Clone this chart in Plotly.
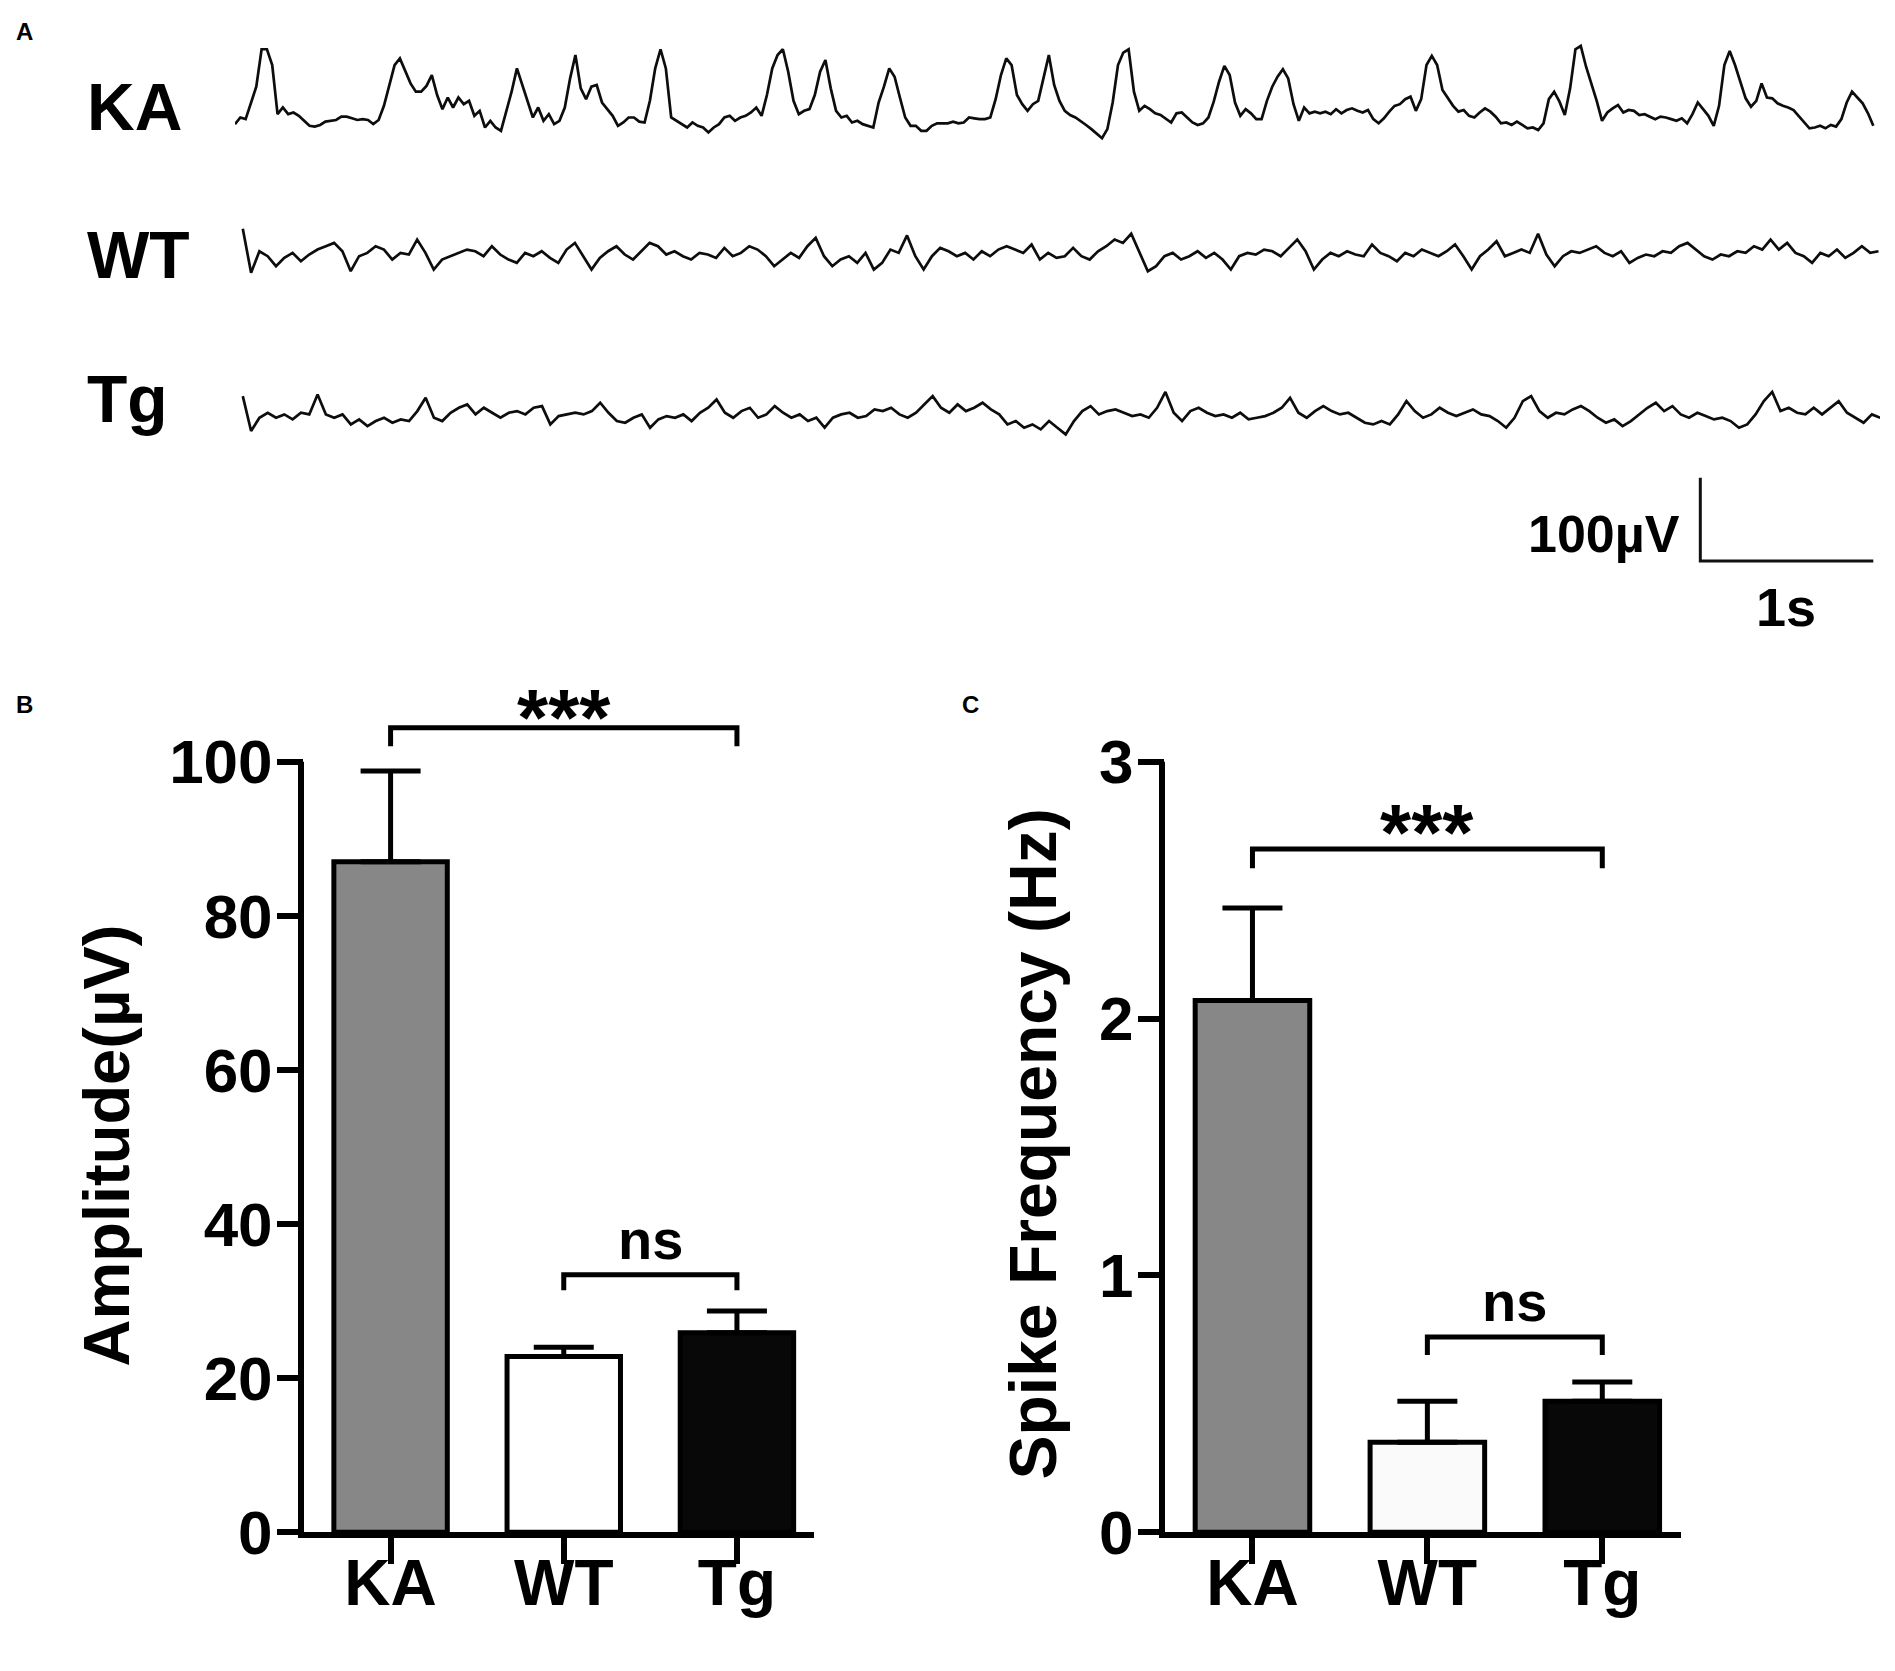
import numpy as np
import plotly.graph_objects as go

W, H = 1895, 1671
FONT = "Liberation Sans, Arial, sans-serif"

# ---------------- data ----------------
groups = ["KA", "WT", "Tg"]

amp_mean = [87.0, 22.8, 25.9]      # uV
amp_sem = [11.8, 1.2, 2.8]
freq_mean = [2.07, 0.35, 0.51]     # Hz
freq_sem = [0.36, 0.16, 0.075]

fills_b = ["#878787", "#ffffff", "#080808"]
fills_c = ["#878787", "#fafafa", "#080808"]

# significance brackets: left group, right group, level, leg end, label
amp_sig = [("KA", "Tg", 104.4, 102.0, "***"), ("WT", "Tg", 33.4, 31.4, "ns")]
freq_sig = [("KA", "Tg", 2.66, 2.585, "***"), ("WT", "Tg", 0.76, 0.69, "ns")]

# EEG traces, uV relative to each baseline
ka_uv = [
    -8, 0, -2, 18, 37, 82, 82, 63, 4, 12, 4, 6, 2, -4, -10, -11, -9, -5, -4, -3,
    1, 1, -1, -3, -2, -3, -8, -3, 14, 37, 63, 71, 57, 41, 31, 31, 38, 51, 27, 10,
    24, 12, 24, 16, 20, 2, 8, -12, -4, -12, -16, 6, 31, 59, 39, 20, 0, 12, -4, 4,
    -8, -4, 12, 47, 75, 35, 22, 37, 39, 18, 10, 2, -10, -6, 0, 0, -5, -6, 20, 59,
    82, 59, 0, -4, -8, -12, -6, -10, -12, -18, -12, -8, 0, 2, -4, 0, 2, 6, 12, 2,
    27, 59, 75, 82, 55, 20, 4, 8, 10, 27, 55, 69, 35, 8, 0, 2, -6, -4, -8, -10,
    -12, 18, 37, 59, 49, 24, 0, -10, -10, -16, -16, -10, -7, -7, -7, -5, -7, -6, 0, -1,
    -2, -2, 0, 22, 51, 71, 63, 27, 16, 8, 16, 20, 47, 75, 39,
    20, 8, 3, 0, -4, -9, -14, -20, -25, -14, 18, 63, 78, 82, 31, 8, 14, 10, 5, 3,
    -2, -6, 5, 6, 0, -6, -9, -7, 0, 19, 43, 62, 51, 18, 2, 10, 5, -2, -2, 20,
    37, 49, 58, 47, 16, -4, 12, 5, 7, 5, 7, 4, 10, 5, 9, 11, 8, 6, 9, -2,
    -7, -1, 7, 14, 16, 22, 25, 8, 22, 63, 74, 63, 33, 24, 14, 7, 9, 2, 0, 6,
    11, 7, 1, -7, -6, -9, -5, -9, -13, -12, -15, -7, 22, 31, 19, 3, 35, 82, 86, 61,
    41, 20, -4, 6, 11, 15, 6, 9, 8, 3, 4, 1, -2, 1, 0, -2, -4, -1, -7, 4,
    18, 10, 2, -10, 14, 63, 80, 63, 42, 23, 13, 20, 41, 24, 23, 17, 14, 12, 9, 2,
    -6, -13, -12, -10, -13, -9, -11, -2, 18, 31, 24, 17, 5, -10,
]
wt_uv = [
    33, -20, 6, 0, -12, -2, 4, -6, 2, 8, 12, 16, 6, -18, 0, 4, 12, 8, -4, 4,
    2, 20, 4, -16, -4, 0, 4, 8, 6, 0, 12, 2, -4, -8, 4, 0, 6, -2, -8, 8,
    16, 0, -16, -2, 6, 12, 2, -4, 6, 16, 12, 2, 6, 0, -4, 4, 2, -2, 10, 0,
    4, 12, 8, 0, -12, -4, 4, -2, 12, 22, 0, -12, -4, 0, -8, 4, -16, -8, 8, 4,
    25, 0, -16, 0, 10, 6, 0, 4, -4, 6, 0, 8, 12, 8, 4, 14, -4, 4, -2, 0,
    10, 0, -4, 6, 12, 20, 16, 27, 4, -18, -12, 0, 4, -4, 0, 6, -2, 4, -4, -16,
    0, 4, 2, 8, 6, 0, 10, 20, 6, -16, -4, 4, 0, 6, 2, 0, 14, 4, 0, -6,
    4, 0, 8, 4, 0, 6, 14, 0, -16, 0, 8, 18, 0, 4, 8, 4, 27, 2, -12, 0,
    6, 4, 8, 12, 4, 0, 6, -8, -2, 2, 0, 6, 4, 12, 16, 8, 0, -4, 2, 0,
    6, 4, 12, 8, 20, 8, 16, 4, 0, -8, 4, 0, 8, -2, 4, 12, 4, 6,
]
tg_uv = [
    22, -20, -4, 2, -4, 0, -6, 2, 0, 24, 0, -4, 0, -12, -6, -14, -8, -4, -10, -6,
    -8, 4, 20, -4, -8, 2, 8, 12, 0, 8, 2, -4, 2, 4, 0, 8, 10, -12, -2, 0,
    2, 0, 4, 14, 2, -8, -10, -4, 0, -16, -6, -2, -4, 0, -8, 2, 8, 18, 2, -4,
    4, 8, -4, 0, 10, 2, -4, 0, -8, -4, -16, -4, 0, 2, -4, -2, 6, 4, 8, 0,
    -4, 2, 12, 22, 8, 2, 12, 4, 8, 14, 6, 0, -12, -8, -16, -12, -18, -8, -16, -24,
    -8, 4, 10, 0, 4, 6, 2, -2, 0, -4, 8, 27, 2, -8, 4, 8, 2, -2, 0, -4,
    2, -6, -4, -2, 2, 8, 20, 2, -4, 4, 10, 4, 0, 2, -4, -10, -12, -8, -12, 0,
    16, 4, -4, 0, 8, 2, -2, 2, 6, 0, -2, -8, -16, -4, 16, 22, 4, -4, 2, 0,
    6, 10, 4, -4, -10, -6, -14, -8, 0, 8, 14, 4, 10, 0, -4, 2, -2, -6, -4, -8,
    -16, -12, 0, 16, 27, 4, 8, 2, 0, 8, 0, 8, 16, 2, -4, -10, 0, -4,
]
ka_span = (0.0, 9.47)     # s
wt_span = (0.045, 9.50)
tg_span = (0.045, 9.51)

# scale bar: 1 s, 100 uV
sb_s, sb_uv = 1.0, 100.0

# ---------------- layout helpers ----------------
def fx(px):
    return px / W


def fy(py):
    return 1 - py / H


PX_PER_S = 173.0
PX_PER_UV = 0.85
lane_offset = {"KA": 0.0, "WT": -166.7, "Tg": -356.8}
trace_x0, trace_x1, trace_top, trace_bot, ka_base = 235, 1880, 0, 640, 120

bar_bottom, bar_top_px = 1565, 778   # pixel rows of 0 and the top tick
amp_max, freq_max = 100, 3
amp_rng = [0, 112]
freq_rng = [0, 3.36]
b_xrng, c_xrng = [-0.5, 2.445], [-0.5, 2.45]
b_dom = [fx(304), fx(814)]
c_dom = [fx(1165), fx(1681)]
y_dom = [fy(bar_bottom), fy(bar_bottom - (bar_bottom - bar_top_px) * amp_rng[1] / amp_max)]

fig = go.Figure()

# ---------------- panel A: traces ----------------
for name, vals, span in [("KA", ka_uv, ka_span), ("WT", wt_uv, wt_span), ("Tg", tg_uv, tg_span)]:
    t = np.linspace(span[0], span[1], len(vals))
    fig.add_trace(go.Scatter(
        x=t, y=np.array(vals, float) + lane_offset[name], mode="lines",
        line=dict(color="#0d0d0d", width=2.7), xaxis="x3", yaxis="y3",
        hoverinfo="skip"))

sb_t0 = 8.47
sb_v0 = (ka_base - 573) / PX_PER_UV
fig.add_trace(go.Scatter(
    x=[sb_t0, sb_t0, sb_t0 + sb_s], y=[sb_v0 + sb_uv, sb_v0, sb_v0],
    mode="lines", line=dict(color="#111111", width=3), xaxis="x3", yaxis="y3",
    hoverinfo="skip"))

# ---------------- panels B and C: bars ----------------
def add_bars(means, sems, fills, xa, ya):
    fig.add_trace(go.Bar(
        x=groups, y=means, width=0.655, xaxis=xa, yaxis=ya,
        marker=dict(color=fills, line=dict(color="black", width=5)),
        error_y=dict(type="data", symmetric=False, array=sems,
                     arrayminus=[0] * len(sems), color="black",
                     thickness=5, width=30),
        hoverinfo="skip"))


def add_brackets(sig, xa, ya):
    for g0, g1, lvl, leg, lab in sig:
        fig.add_trace(go.Scatter(
            x=[g0, g0, g1, g1], y=[leg, lvl, lvl, leg], mode="lines",
            line=dict(color="black", width=5), xaxis=xa, yaxis=ya,
            hoverinfo="skip"))


add_bars(amp_mean, amp_sem, fills_b, "x", "y")
add_bars(freq_mean, freq_sem, fills_c, "x2", "y2")
add_brackets(amp_sig, "x", "y")
add_brackets(freq_sig, "x2", "y2")

annotations = []


def note(text, x, y, size, xanchor="center", yanchor="middle", angle=0,
         xref="paper", yref="paper"):
    annotations.append(dict(
        text=text, x=x, y=y, xref=xref, yref=yref, showarrow=False,
        xanchor=xanchor, yanchor=yanchor, textangle=angle,
        font=dict(family=FONT, size=size, color="black", weight="bold")))


# significance labels, placed between the bracketed groups
mid = {("KA", "Tg"): "WT", ("WT", "Tg"): 1.5}
for sig, xa, ya, star_up, ns_up in [(amp_sig, "x", "y", 1.4, 4.6), (freq_sig, "x2", "y2", 0.064, 0.14)]:
    for g0, g1, lvl, leg, lab in sig:
        xc = mid[(g0, g1)]
        if lab == "***":
            note(lab, xc, lvl + star_up, 80, xref=xa, yref=ya)
        else:
            note(lab, xc, lvl + ns_up, 56, xref=xa, yref=ya)

# trace labels and panel letters
note("KA", fx(85), fy(109), 66, xanchor="left")
note("WT", fx(85), fy(260), 66, xanchor="left")
note("Tg", fx(85), fy(408), 66, xanchor="left")
note("100µV", fx(1682), fy(545), 52, xanchor="right")
note("1s", fx(1786), fy(620), 54)
note("A", fx(24), fy(32), 24)
note("B", fx(24), fy(720), 24)
note("C", fx(970), fy(720), 24)
note("Amplitude(µV)", fx(106), fy(1170), 65, angle=-90)
note("Spike Frequency (Hz)", fx(1033), fy(1169), 66, angle=-90)


def y_to_paper(v, rng):
    return y_dom[0] + (v - rng[0]) / (rng[1] - rng[0]) * (y_dom[1] - y_dom[0])


# y axis lines stop at the top tick, as in the original
shapes = []
for dom, rng, top in [(b_dom, amp_rng, amp_max), (c_dom, freq_rng, freq_max)]:
    shapes.append(dict(
        type="line", xref="paper", yref="paper",
        x0=dom[0] - fx(3), x1=dom[0] - fx(3),
        y0=y_dom[0] - 6 / H, y1=y_to_paper(top, rng),
        line=dict(color="black", width=6)))

cat_axis = dict(
    type="category", categoryorder="array", categoryarray=groups,
    showline=True, linewidth=6, linecolor="black",
    ticks="outside", ticklen=26, tickwidth=6, tickcolor="black",
    ticklabelstandoff=-36,
    tickfont=dict(family=FONT, size=64, color="black", weight="bold"),
    showgrid=False, zeroline=False, fixedrange=True)
val_axis = dict(
    showline=False, ticks="outside", ticklen=26, tickwidth=6,
    tickcolor="black", showgrid=False, zeroline=False, fixedrange=True,
    ticklabelstandoff=-8,
    tickfont=dict(family=FONT, size=62, color="black", weight="bold"),
    domain=y_dom)

fig.update_layout(
    width=W, height=H, margin=dict(l=0, r=0, t=0, b=0),
    paper_bgcolor="white", plot_bgcolor="rgba(0,0,0,0)", showlegend=False,
    xaxis=dict(cat_axis, domain=b_dom, anchor="y", range=b_xrng),
    yaxis=dict(val_axis, range=amp_rng, tickvals=[0, 20, 40, 60, 80, 100], anchor="x"),
    xaxis2=dict(cat_axis, domain=c_dom, anchor="y2", range=c_xrng),
    yaxis2=dict(val_axis, range=freq_rng, tickvals=[0, 1, 2, 3], anchor="x2"),
    xaxis3=dict(domain=[fx(trace_x0), fx(trace_x1)], anchor="y3", visible=False,
                range=[0, (trace_x1 - trace_x0) / PX_PER_S], fixedrange=True),
    yaxis3=dict(domain=[fy(trace_bot), fy(trace_top)], anchor="x3", visible=False,
                range=[(ka_base - trace_bot) / PX_PER_UV, (ka_base - trace_top) / PX_PER_UV],
                fixedrange=True),
    annotations=annotations, shapes=shapes,
)

# drop the default page margin so the figure sits flush in the window
fig.write_html("out.html", config={"displayModeBar": False},
               post_script="document.body.style.margin='0';document.body.style.overflow='hidden';")
